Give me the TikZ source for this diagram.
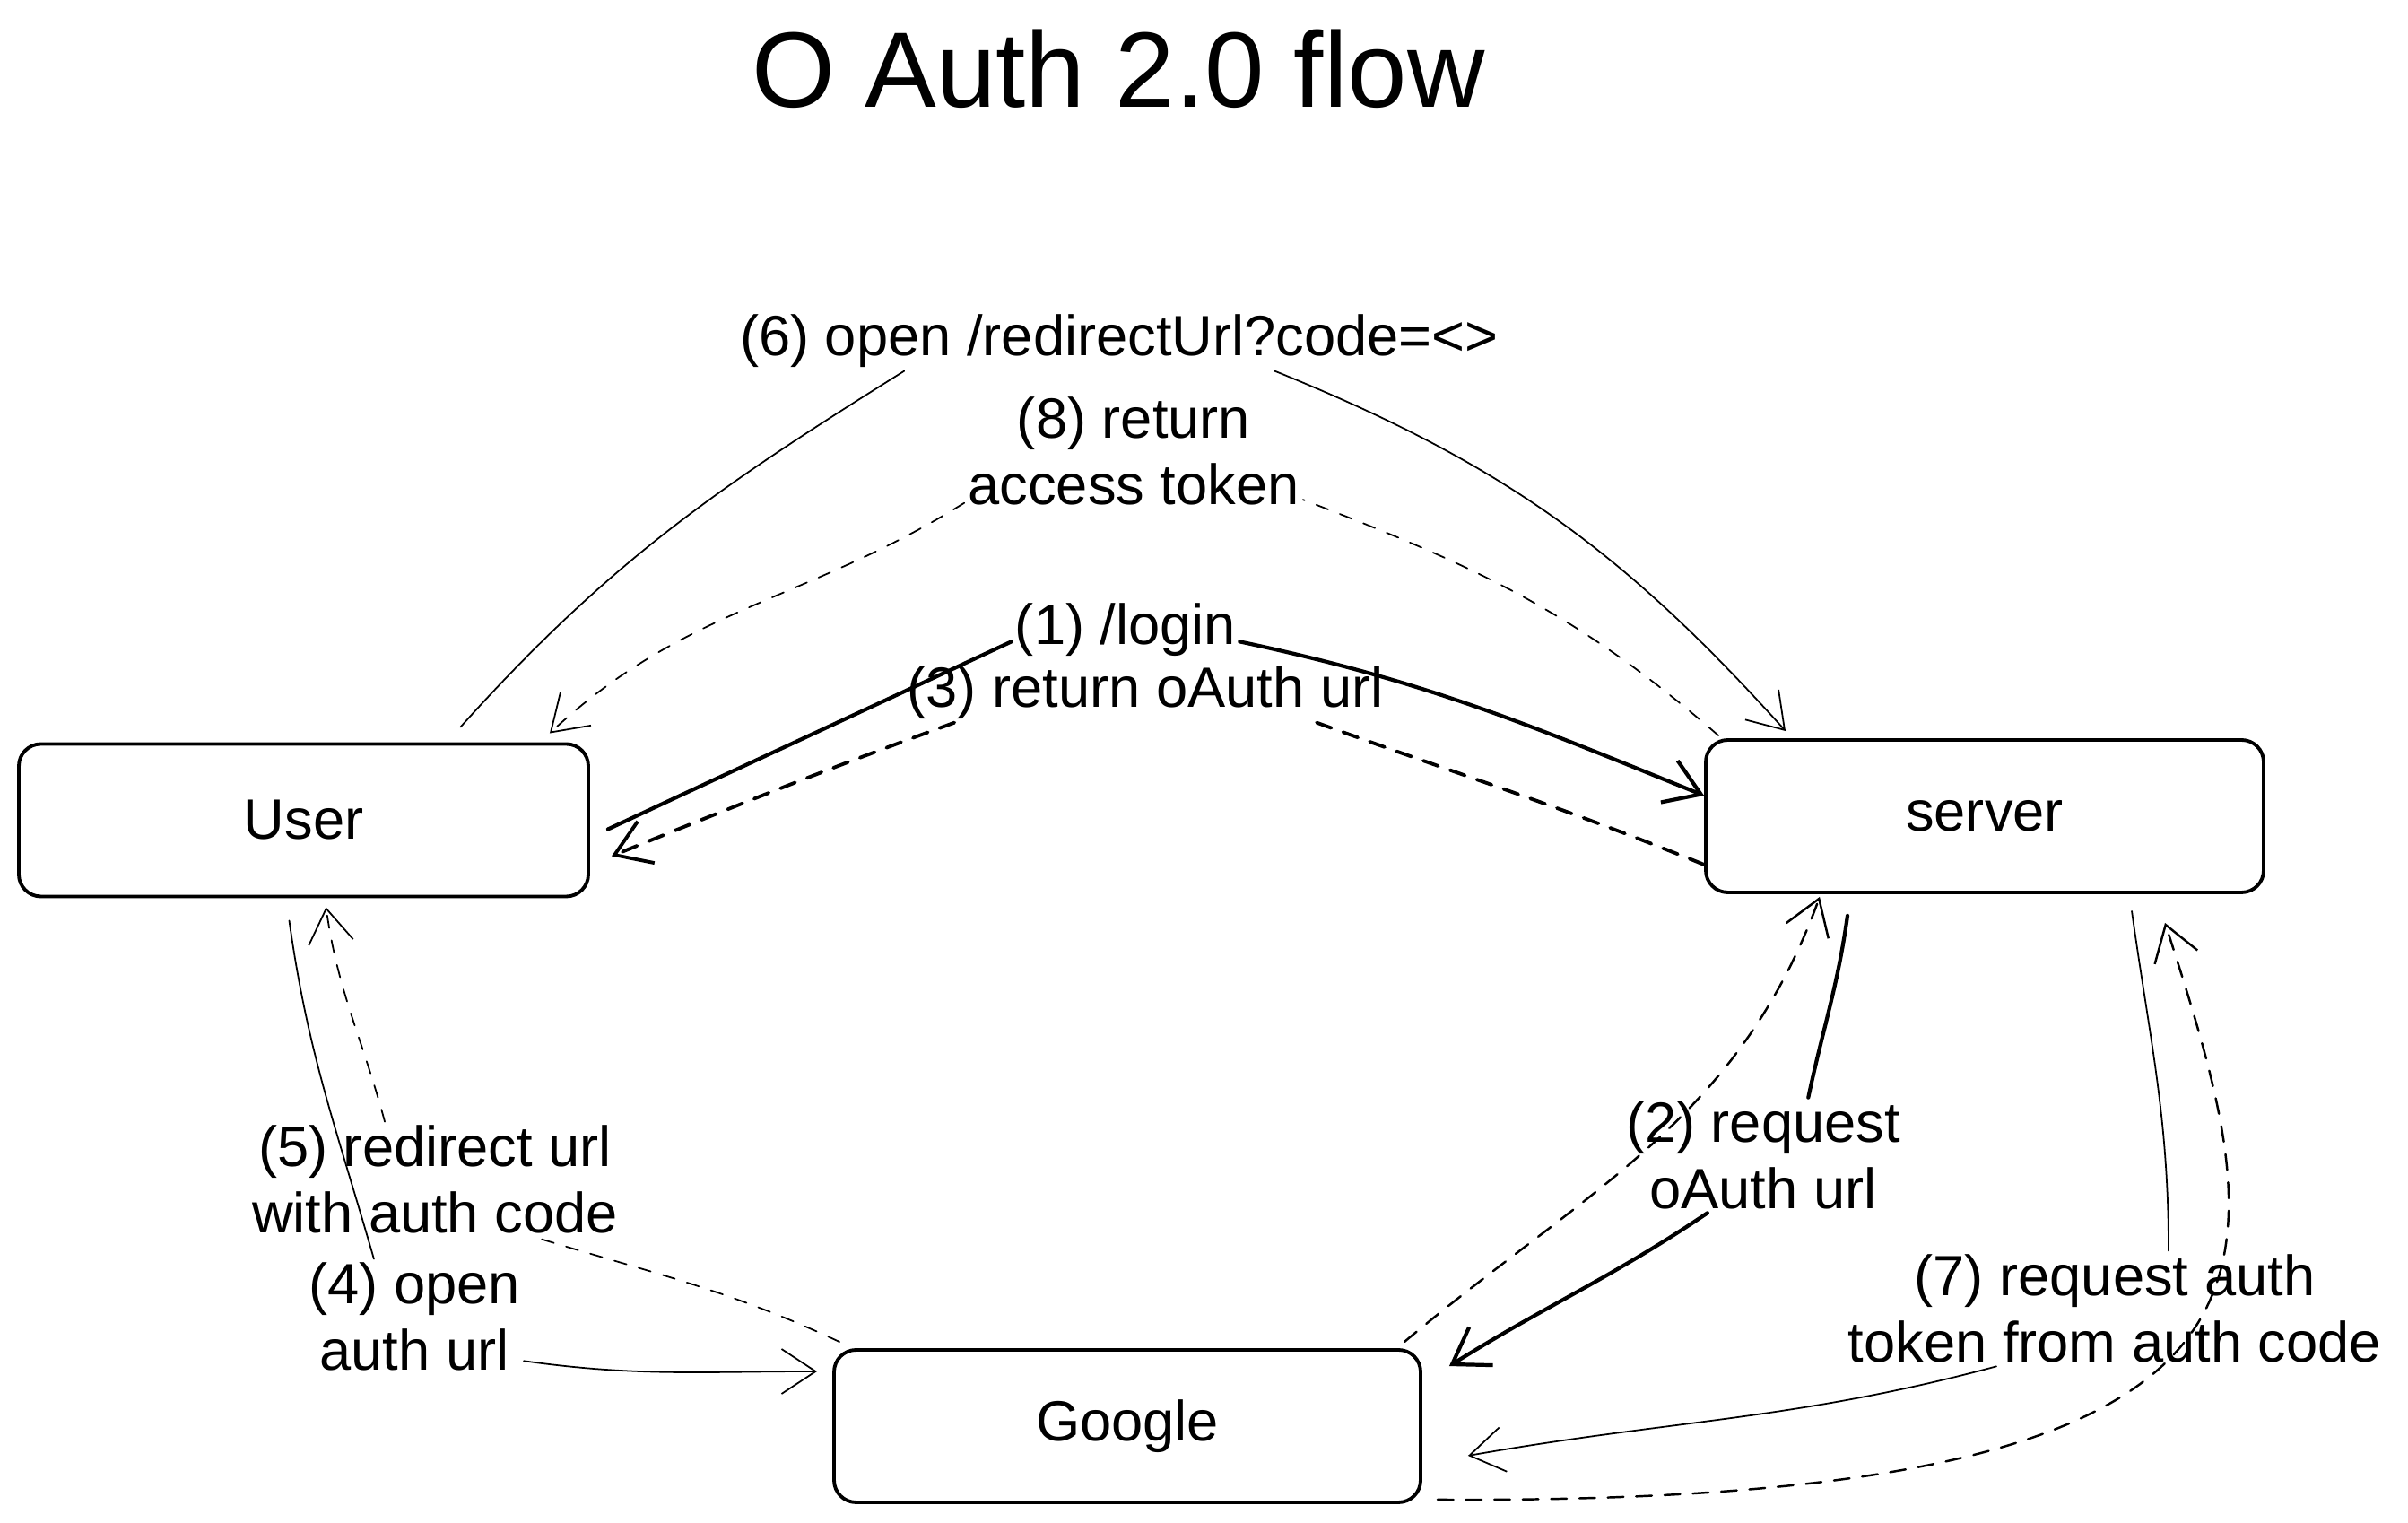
\documentclass[tikz,border=0pt]{standalone}
\usepackage{fontspec}
\setmainfont{Liberation Sans}
\usetikzlibrary{arrows.meta}
\begin{document}
\begin{tikzpicture}[>={Straight Barb[length=3.8mm,width=5mm]},line cap=round,
box/.style={draw,line width=1.1pt,rounded corners=7pt,minimum height=1.7cm,font=\fontsize{18}{21}\selectfont},
lbl/.style={align=center,inner sep=1pt,font=\fontsize{18}{21}\selectfont},
thk/.style={line width=1.2pt},
thkd/.style={line width=1.1pt,dash pattern=on 5pt off 4pt},
thn/.style={line width=.5pt},
thnd/.style={line width=.5pt,dash pattern=on 4pt off 4pt},
medd/.style={line width=.7pt,dash pattern=on 5pt off 4pt}]
\useasboundingbox (0,0) rectangle (26.85,16.98);
\node[font=\fontsize{34}{40}\selectfont] (title) at (12.47,16.21) {O Auth 2.0 flow};
\foreach \n/\x/\y/\w/\t in {user/3.385/7.835/6.35/User,server/22.13/7.88/6.22/server,google/12.57/1.08/6.54/Google}
  \node[box,minimum width=\w cm] (\n) at (\x,\y) {\t};
\node[lbl] (l1) at (12.55,9.96) {(1) /login};
\node[lbl] (l3) at (12.77,9.26) {(3) return oAuth url};
\node[lbl] (l6) at (12.48,13.18) {(6) open /redirectUrl?code=<>};
\node[lbl] (l8) at (12.64,11.95) {(8) return\\access token};
\node[lbl] (l2) at (19.66,4.10) {(2) request\\oAuth url};
\node[lbl] (l4) at (4.62,2.30) {(4) open\\auth url};
\node[lbl] (l5) at (4.85,3.83) {(5) redirect url\\with auth code};
\node[lbl] (l7) at (23.58,2.39) {(7) request auth\\token from auth code};
\draw[thk] ([xshift=2mm,yshift=-1mm]user.east) to[out=25,in=205] (l1.186);
\draw[thk,->] (l1.-6) to[out=-12,in=158] ([yshift=2.3mm]server.west);
\draw[thkd] ([yshift=-5.4mm]server.west) to[out=158,in=-20] (l3.-10);
\draw[thkd,->] (l3.189) to[out=200,in=22] ([xshift=2.4mm,yshift=-4mm]user.east);
\draw[thn] ([xshift=1.75cm,yshift=1.7mm]user.north) to[out=48,in=212] (l6.188);
\draw[thn,->] (l6.-11) to[out=-22,in=132] ([xshift=-2.22cm,yshift=.8mm]server.north);
\draw[thnd] ([xshift=1.6mm,yshift=.3mm]server.north west) to[out=139,in=-21] (l8.-16);
\draw[thnd,->] (l8.197) to[out=212,in=43] ([xshift=-4.5mm,yshift=1mm]user.north east);
\draw[thk] ([xshift=-1.53cm,yshift=-2.4mm]server.south) to[out=-98,in=78] (l2.52);
\draw[thk,->] (l2.226) to[out=214,in=32] ([xshift=3mm,yshift=-2mm]google.north east);
\draw[medd,->] ([xshift=-2mm,yshift=.7mm]google.north east) to[out=40,in=-110] ([xshift=-1.84cm,yshift=-.3mm]server.south);
\draw[thn] ([xshift=-1.6mm,yshift=-2.5mm]user.south) to[out=-82,in=106] (l4.125);
\draw[thn,->] (l4.-22) to[out=-8,in=180] ([xshift=-1.7mm,yshift=6.1mm]google.west);
\draw[thnd] ([xshift=.8mm,yshift=.7mm]google.north west) to[out=155,in=-17] (l5.-30);
\draw[thnd,->] (l5.131) to[out=105,in=-82] ([xshift=2.5mm,yshift=-1mm]user.south);
\draw[thn] ([xshift=1.64cm,yshift=-1.9mm]server.south) to[out=-82,in=90] (l7.47);
\draw[thn,->] (l7.206) to[out=195,in=10] ([xshift=5.1mm,yshift=-3.3mm]google.east);
\draw[medd,->] ([xshift=1.7mm,yshift=.5mm]google.south east) .. controls (26.1,0.2) and (25.4,2.8) .. ([xshift=2.01cm,yshift=-3.2mm]server.south);
\end{tikzpicture}
\end{document}
